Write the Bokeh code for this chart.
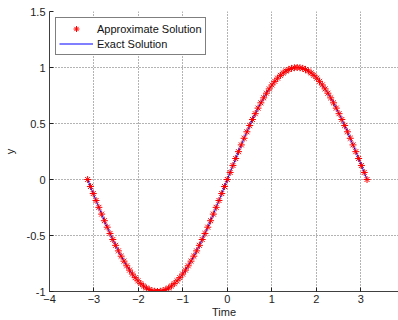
from bokeh.plotting import figure
from bokeh.models import FixedTicker, Range1d, Legend, LegendItem
from bokeh.embed import file_html
from bokeh.resources import INLINE

time = [-3.142, -3.079, -3.016, -2.953, -2.890, -2.827, -2.765, -2.702, -2.639, -2.576,
        -2.513, -2.450, -2.388, -2.325, -2.262, -2.199, -2.136, -2.073, -2.011, -1.948,
        -1.885, -1.822, -1.759, -1.696, -1.634, -1.571, -1.508, -1.445, -1.382, -1.319,
        -1.257, -1.194, -1.131, -1.068, -1.005, -0.942, -0.880, -0.817, -0.754, -0.691,
        -0.628, -0.565, -0.503, -0.440, -0.377, -0.314, -0.251, -0.188, -0.126, -0.063,
        0.000, 0.063, 0.126, 0.188, 0.251, 0.314, 0.377, 0.440, 0.503, 0.565,
        0.628, 0.691, 0.754, 0.817, 0.880, 0.942, 1.005, 1.068, 1.131, 1.194,
        1.257, 1.319, 1.382, 1.445, 1.508, 1.571, 1.634, 1.696, 1.759, 1.822,
        1.885, 1.948, 2.011, 2.073, 2.136, 2.199, 2.262, 2.325, 2.388, 2.450,
        2.513, 2.576, 2.639, 2.702, 2.765, 2.827, 2.890, 2.953, 3.016, 3.079, 3.142]

approx = [0.0, -0.0628, -0.1253, -0.1874, -0.2487, -0.3090, -0.3681, -0.4258, -0.4818, -0.5358,
          -0.5878, -0.6374, -0.6845, -0.7290, -0.7705, -0.8090, -0.8443, -0.8763, -0.9048, -0.9298,
          -0.9511, -0.9686, -0.9823, -0.9921, -0.9980, -1.0, -0.9980, -0.9921, -0.9823, -0.9686,
          -0.9511, -0.9298, -0.9048, -0.8763, -0.8443, -0.8090, -0.7705, -0.7290, -0.6845, -0.6374,
          -0.5878, -0.5358, -0.4818, -0.4258, -0.3681, -0.3090, -0.2487, -0.1874, -0.1253, -0.0628,
          0.0, 0.0628, 0.1253, 0.1874, 0.2487, 0.3090, 0.3681, 0.4258, 0.4818, 0.5358,
          0.5878, 0.6374, 0.6845, 0.7290, 0.7705, 0.8090, 0.8443, 0.8763, 0.9048, 0.9298,
          0.9511, 0.9686, 0.9823, 0.9921, 0.9980, 1.0, 0.9980, 0.9921, 0.9823, 0.9686,
          0.9511, 0.9298, 0.9048, 0.8763, 0.8443, 0.8090, 0.7705, 0.7290, 0.6845, 0.6374,
          0.5878, 0.5358, 0.4818, 0.4258, 0.3681, 0.3090, 0.2487, 0.1874, 0.1253, 0.0628, 0.0]

exact = list(approx)

x_ticks = [-4, -3, -2, -1, 0, 1, 2, 3, 4]
y_ticks = [-1, -0.5, 0, 0.5, 1, 1.5]
y_tick_labels = ["-1", "-0.5", "0", "0.5", "1", "1.5"]

FONT = "Liberation Sans"

p = figure(width=398, height=320, output_backend="svg", toolbar_location=None,
           x_range=Range1d(-4, 3.85), y_range=Range1d(-1, 1.5),
           min_border_left=49, min_border_right=0, min_border_top=11, min_border_bottom=26)

p.outline_line_color = None
p.background_fill_color = "white"
p.border_fill_color = "white"

for ax in (p.xaxis[0], p.yaxis[0]):
    ax.axis_line_color = "#404040"
    ax.major_tick_line_color = "#202020"
    ax.major_tick_in = 4
    ax.major_tick_out = 0
    ax.minor_tick_line_color = None
    ax.major_label_text_font = FONT
    ax.major_label_text_font_size = "11px"
    ax.major_label_text_color = "#222222"
    ax.axis_label_text_font = FONT
    ax.axis_label_text_font_size = "11px"
    ax.axis_label_text_font_style = "normal"
    ax.axis_label_text_color = "#222222"

p.xaxis.ticker = FixedTicker(ticks=x_ticks)
p.yaxis.ticker = FixedTicker(ticks=y_ticks)
p.yaxis.major_label_overrides = {t: l for t, l in zip(y_ticks, y_tick_labels)}
p.xaxis.major_label_standoff = 3
p.yaxis.major_label_standoff = 4
p.xaxis.axis_label = "Time"
p.yaxis.axis_label = "y"
p.xaxis.axis_label_standoff = 0
p.yaxis.axis_label_standoff = 8

p.grid.grid_line_color = "#333333"
p.grid.grid_line_dash = "1 2"
p.grid.grid_line_alpha = 0.75
p.grid.grid_line_width = 1

r_line = p.line(time, exact, line_color="#0000ff", line_width=1)
r_pts = p.scatter(time, approx, marker="asterisk", size=7, line_color="#ff0000", line_width=1)

legend = Legend(items=[LegendItem(label="Approximate Solution", renderers=[r_pts]),
                       LegendItem(label="Exact Solution", renderers=[r_line])],
                location="top_left")
legend.margin = 6
legend.padding = 3
legend.spacing = 0
legend.glyph_width = 34
legend.glyph_height = 15
legend.label_height = 15
legend.label_standoff = 4
legend.label_text_font = FONT
legend.label_text_font_size = "11px"
legend.label_text_color = "#111111"
legend.border_line_color = "black"
legend.border_line_width = 1
legend.background_fill_color = "white"
legend.background_fill_alpha = 1
p.add_layout(legend)

open("out.html", "w").write(file_html(p, INLINE))
